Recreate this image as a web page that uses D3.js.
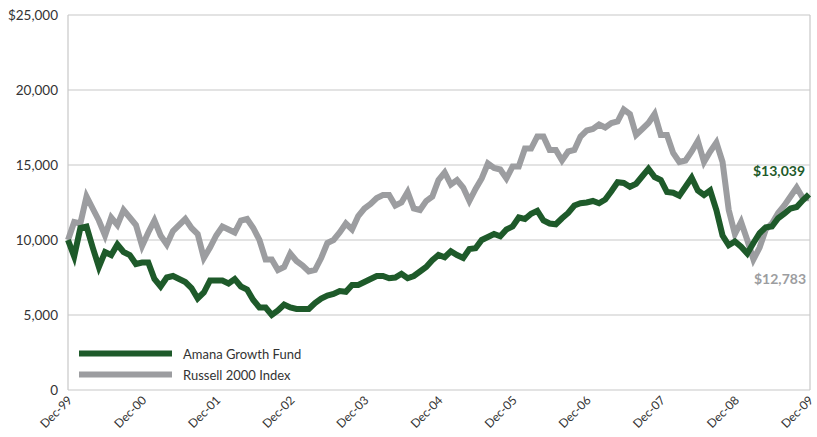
<!DOCTYPE html>
<html>
<head>
<meta charset="utf-8">
<script src="https://cdn.jsdelivr.net/npm/d3@7"></script>
<style>
  body { margin: 0; background: #fff; }
  svg { display: block; font-family: Lato, "Open Sans", sans-serif; }
</style>
</head>
<body>
<div id="graph"></div>
<script>
// monthly values, Dec-99 .. Dec-09 (growth of $10,000)
const amana = [
  10000, 8900, 10800, 10900, 9500, 8200, 9200, 9000, 9700, 9200, 9000, 8400,
  8500, 8500, 7400, 6900, 7500, 7600, 7400, 7200, 6800, 6100, 6500, 7300,
  7300, 7300, 7100, 7400, 6900, 6700, 6000, 5500, 5500, 5000, 5300, 5700,
  5500, 5400, 5400, 5400, 5800, 6100, 6300, 6400, 6600, 6550, 7000, 7000,
  7200, 7400, 7600, 7600, 7450, 7500, 7750, 7450, 7600, 7900, 8200, 8650,
  9000, 8850, 9250, 9000, 8800, 9400, 9450, 10000, 10200, 10400, 10250, 10700,
  10900, 11500, 11400, 11750, 11950, 11300, 11100, 11050, 11450, 11800, 12300, 12450,
  12500, 12600, 12450, 12700, 13250, 13850, 13800, 13550, 13750, 14250, 14750, 14200,
  14000, 13200, 13150, 12950, 13550, 14150, 13300, 13000, 13300, 12000, 10300, 9650,
  9900, 9550, 9100, 9800, 10450, 10850, 10900, 11450, 11750, 12100, 12200, 12650,
  13039
];
const russell = [
  10000, 11200, 11100, 12900, 12100, 11300, 10300, 11500, 11000, 12000, 11500, 11000,
  9600, 10500, 11300, 10300, 9700, 10600, 11000, 11400, 10800, 10400, 8800, 9500,
  10300, 10900, 10700, 10500, 11300, 11400, 10800, 10000, 8700, 8700, 8000, 8200,
  9100, 8600, 8300, 7900, 8000, 8800, 9800, 10000, 10500, 11100, 10700, 11600,
  12100, 12400, 12800, 13000, 13000, 12300, 12500, 13200, 12100, 12000, 12600, 12900,
  14000, 14500, 13700, 14000, 13500, 12600, 13400, 14100, 15100, 14800, 14700, 14100,
  14900, 14900, 16100, 16100, 16900, 16900, 16000, 16000, 15300, 15900, 16000, 16900,
  17300, 17400, 17700, 17500, 17800, 17900, 18700, 18400, 17000, 17400, 17800, 18400,
  17000, 17000, 15800, 15200, 15300, 15900, 16600, 15200, 15900, 16500, 15200, 12000,
  10400, 11200, 10000, 8700, 9500, 10700, 11100, 11800, 12300, 12900, 13500, 12800,
  12783
];
const xLabels = ["Dec-99", "Dec-00", "Dec-01", "Dec-02", "Dec-03", "Dec-04",
                 "Dec-05", "Dec-06", "Dec-07", "Dec-08", "Dec-09"];
const yTicks = [0, 5000, 10000, 15000, 20000, 25000];
const seriesNames = ["Amana Growth Fund", "Russell 2000 Index"];
const colors = {green: "#1e5a2a", gray: "#9c9da0", grid: "#c8c8c8"};

const W = 817, H = 437;
const svg = d3.select("#graph").append("svg").attr("width", W).attr("height", H);

const x = d3.scaleLinear().domain([0, amana.length - 1]).range([68, 809]);
const y = d3.scaleLinear().domain([0, 25000]).range([390, 15]);

// grid
svg.selectAll(".grid").data(yTicks).enter().append("line")
  .attr("x1", 68).attr("x2", 810)
  .attr("y1", d => y(d)).attr("y2", d => y(d))
  .attr("stroke", colors.grid).attr("stroke-width", 1.2);
svg.append("line").attr("x1", 68).attr("x2", 68).attr("y1", 15).attr("y2", 390)
  .attr("stroke", colors.grid).attr("stroke-width", 1.2);
svg.append("line").attr("x1", 810).attr("x2", 810).attr("y1", 15).attr("y2", 390)
  .attr("stroke", colors.grid).attr("stroke-width", 1.2);

// y labels
svg.selectAll(".ylab").data(yTicks).enter().append("text")
  .attr("x", 58).attr("y", d => y(d) + 5)
  .attr("text-anchor", "end").attr("font-size", 13.5).attr("fill", "#333")
  .text(d => (d === 25000 ? "$" : "") + d3.format(",")(d));

// x labels
svg.selectAll(".xlab").data(xLabels).enter().append("text")
  .attr("transform", (d, i) => `translate(${x(i * 12) + 5},${401}) rotate(-45)`)
  .attr("text-anchor", "end").attr("font-size", 12).attr("fill", "#333")
  .text(d => d);

const line = d3.line().x((d, i) => x(i)).y(d => y(d)).curve(d3.curveLinear);

svg.append("path").datum(russell).attr("d", line)
  .attr("fill", "none").attr("stroke", colors.gray).attr("stroke-width", 6)
  .attr("stroke-linejoin", "miter");
svg.append("path").datum(amana).attr("d", line)
  .attr("fill", "none").attr("stroke", colors.green).attr("stroke-width", 6)
  .attr("stroke-linejoin", "miter");

// end labels
svg.append("text").attr("x", 805).attr("y", 176).attr("text-anchor", "end")
  .attr("font-size", 14).attr("font-weight", "bold").attr("fill", colors.green)
  .text("$" + d3.format(",")(amana[amana.length - 1]));
svg.append("text").attr("x", 806).attr("y", 284).attr("text-anchor", "end")
  .attr("font-size", 14).attr("font-weight", "bold").attr("fill", colors.gray)
  .text("$" + d3.format(",")(russell[russell.length - 1]));

// legend
const legend = svg.selectAll(".leg").data(seriesNames).enter().append("g")
  .attr("transform", (d, i) => `translate(79,${353.5 + i * 21})`);
legend.append("line").attr("x1", 0).attr("x2", 93)
  .attr("stroke", (d, i) => i === 0 ? colors.green : colors.gray).attr("stroke-width", 6);
legend.append("text").attr("x", 104).attr("y", 5).attr("font-size", 13).attr("fill", "#333")
  .text(d => d);
</script>
</body>
</html>
